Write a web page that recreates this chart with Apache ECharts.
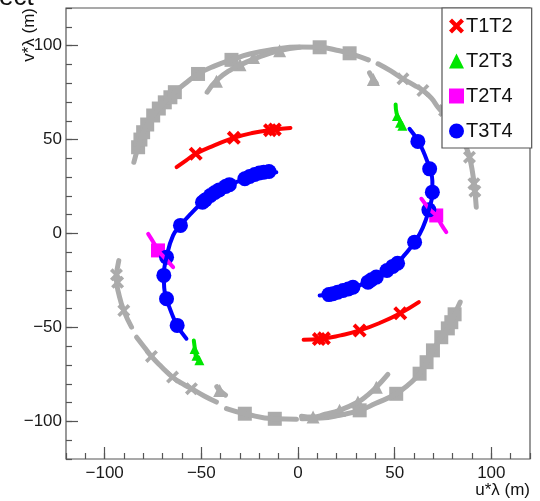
<!DOCTYPE html>
<html>
<head>
<meta charset="utf-8">
<script src="https://cdn.jsdelivr.net/npm/echarts@6/dist/echarts.min.js"></script>
<style>
  html, body { margin: 0; padding: 0; background: #ffffff; }
  #chart { width: 540px; height: 501px; }
</style>
</head>
<body>
<div id="chart"></div>
<script>
// ---- axes ----
const axisMin = -120;
const axisMax = 120;
const majorTicks = [-100, -50, 0, 50, 100];

// ---- T1T2 (red) ----
const t1t2North = [[-62.8, 35.3], [-58, 38.8], [-52.9, 42.4], [-43, 47], [-33.2, 50.9], [-23, 53.6], [-13.2, 55.2], [-3.9, 56.2]];
const t1t2South = [[2.9, -56.5], [12.1, -56.0], [22, -54.2], [31.9, -51.6], [42.5, -47.5], [52.9, -42.4], [62.5, -36.5]];
const t1t2Marks = [[-52.9, 42.4], [-33.2, 50.9], [-14.5, 55], [-12, 55.4], [10.8, -56.2], [13.4, -55.8], [31.9, -51.6], [52.9, -42.4]];

// ---- T2T3 (green) ----
const t2t3North = [[50.5, 68.6], [51, 64], [52.5, 60.5], [54.3, 56.5]];
const t2t3South = [[-53.9, -56.9], [-53.5, -60], [-52.9, -64.9], [-50.8, -68.4]];
const t2t3Marks = [[51.2, 62.5], [52.8, 59], [54, 57.3], [-53.5, -61.5], [-52.5, -65], [-51, -67.5]];

// ---- T2T4 (magenta) ----
const t2t4West = [[-77.5, -0.2], [-74, -6], [-72.4, -9], [-68, -14], [-64.6, -17.9]];
const t2t4East = [[63.8, 18.5], [68, 13], [71.5, 9.6], [74, 5], [76.7, 0.7]];
const t2t4Marks = [[-72.4, -9], [71.5, 9.6]];

// ---- T3T4 (blue) ----
const t3t4West = [[-11.2, 32.6], [-17.7, 32.6], [-22.4, 31.4], [-27.5, 29.1], [-32, 27.3], [-36.7, 25.5], [-40.8, 23.2], [-45.3, 20.2], [-49.4, 16.6], [-55, 11], [-60.8, 4.3], [-64.6, -1], [-68, -12.6], [-69.4, -22.3], [-69.2, -29], [-68, -34.7], [-65.5, -42], [-62.5, -48.9], [-57.7, -56]];
const t3t4East = [[57.7, 55.7], [62, 49.5], [65.5, 42], [68.1, 34.4], [69.5, 28], [69.5, 22], [67.7, 12.6], [64.5, 3], [60.3, -4.6], [55.5, -11], [50, -17], [46, -19.7], [40.5, -23.2], [36.2, -25.9], [32, -27.5], [28.4, -28.6], [23.3, -30.3], [18.1, -32.1], [11.2, -33]];
const t3t4Marks = [
  [-15, 33], [-17.7, 32.6], [-20, 32.2], [-22.4, 31.4], [-25, 30.3], [-27.5, 29.1],
  [-35.5, 26], [-37.5, 25], [-40.8, 23.2], [-43, 21.8], [-45.3, 20.2], [-48, 17.8], [-49.4, 16.6],
  [-60.8, 4.3], [-68, -12.6], [-69.4, -22.3], [-68, -34.7], [-62.5, -48.9],
  [62, 49], [68.1, 34.4], [69.5, 22], [67.7, 12.6], [60.3, -4.6],
  [51.5, -15.8], [49, -17.5], [46, -19.7], [40.5, -23.2], [38, -24.6], [36.2, -25.9],
  [28.4, -28.6], [26, -29.5], [23.3, -30.3], [20.5, -31.3], [18.1, -32.1], [16, -32.5]
];

// ---- other baselines (grey) ----
const greySquareArcN = [[-84.9, 37.9], [-82.7, 45.9], [-80.1, 53.9], [-74.9, 62.8], [-68.9, 69.8], [-63.7, 75.2], [-57.5, 80.5], [-51.7, 84.9], [-43, 89.2], [-34.4, 92.4], [-25, 95.5], [-12, 98], [0, 99.3], [11.2, 99.1], [20, 97.5], [26.7, 95.9], [36.4, 92.4]];
const greySquareArcS1 = [[-37, -93.2], [-27.5, -95.9], [-12, -98.6], [-0.8, -98.8]];
const greySquareArcS2 = [[2, -98.6], [12, -98.2], [20, -97], [31.9, -94.1], [40, -90.5], [50.8, -85.3], [57, -80.5], [62.9, -74.6], [66.5, -68.5], [69.8, -62.2], [74.1, -55.2], [77.5, -50.5], [79.3, -47.2], [81, -43], [83.9, -36.5]];
const greyTriArcN = [[-47, 75.2], [-42.2, 81.4], [-35, 87], [-27.5, 90.8], [-20, 94], [-9.5, 97.3], [0.9, 99.1]];
const greyTriArcS = [[1.8, -97.2], [7.8, -97.7], [14, -96.2], [21.5, -94.1], [31, -89.7], [36, -86], [40.5, -81.8], [46.5, -75]];
const greyCrossArcNE1 = [[41.4, 90.3], [48, 86.5], [54.3, 82.3], [60, 79], [64.6, 76.1], [69, 72], [72.4, 67.2], [76, 63], [79.5, 59]];
const greyCrossArcNE2 = [[84, 53], [87, 45.9], [88.7, 40.6], [90.2, 33], [91.3, 24.6], [92.2, 14]];
const greyCrossArcSW1 = [[-92.7, -14.4], [-93.9, -24.1], [-92.5, -33], [-90.1, -41], [-86.1, -49.8]];
const greyCrossArcSW2 = [[-83.5, -55.2], [-79.5, -60.5], [-75.8, -65.4], [-70.5, -71], [-64.9, -76.4], [-60, -79.8], [-55.1, -82.6], [-48.5, -86.5], [-42.2, -89.7]];
const greyStubN = [[37, 85.5], [39, 82], [40.5, 80]];
const greyStubS = [[-42, -81.5], [-40.5, -83.5], [-37.5, -86]];
const greySquares = [
  [-82.7, 45.9], [-81.5, 50], [-80.1, 53.9], [-78, 58], [-74.9, 62.8], [-72, 66.5], [-68.9, 69.8], [-66, 72.5], [-63.7, 75.2],
  [-51.7, 84.9], [-34.4, 92.4], [11.2, 99.1], [26.7, 95.9],
  [-27.5, -95.9], [-12, -98.6], [31.9, -94.1], [50.8, -85.3], [62.9, -74.6], [66.5, -68.5], [69.8, -62.2], [74.1, -55.2], [77.5, -50.5], [79.3, -47.2], [81, -43]
];
const greyTriangles = [
  [-42.2, 81], [-30, 89.8], [-23, 93.6], [-9.5, 97.2], [39, 82],
  [7.8, -97.7], [21.5, -94.1], [31, -89.7], [40.5, -81.8], [-40.5, -83.5]
];
const greyCrosses = [
  [54.3, 82.3], [64.6, 76.1], [75.8, 65.4], [88.7, 40.6], [91, 26.5], [91.5, 22.5],
  [-93.9, -22], [-93.3, -26], [-90.1, -41], [-75.8, -65.4], [-64.9, -76.4], [-55.1, -82.6]
];

// ---- styling ----
const FONT = '"Liberation Sans", Arial, Helvetica, sans-serif';
const RED = '#ff0000', GREEN = '#00e600', MAGENTA = '#ff00ff', BLUE = '#0000ff', GREY = '#ababab';
const XMARK = 'path://M2,0 L5,3 L8,0 L10,2 L7,5 L10,8 L8,10 L5,7 L2,10 L0,8 L3,5 L0,2 Z';

function track(name, data, color, width) {
  return {
    name: name, type: 'line', data: data, smooth: true, symbol: 'none', showSymbol: false,
    lineStyle: { color: color, width: width, cap: 'round', join: 'round' },
    itemStyle: { color: color }, silent: true, animation: false
  };
}
function marks(name, data, symbol, size, color) {
  return {
    name: name, type: 'scatter', data: data, symbol: symbol, symbolSize: size,
    itemStyle: { color: color, opacity: 1 }, silent: true, animation: false
  };
}

const series = [
  track('grey', greySquareArcN, GREY, 5),
  track('grey', greySquareArcS1, GREY, 5),
  track('grey', greySquareArcS2, GREY, 5),
  track('grey', greyTriArcN, GREY, 5),
  track('grey', greyTriArcS, GREY, 5),
  track('grey', greyCrossArcNE1, GREY, 5),
  track('grey', greyCrossArcNE2, GREY, 5),
  track('grey', greyCrossArcSW1, GREY, 5),
  track('grey', greyCrossArcSW2, GREY, 5),
  track('grey', greyStubN, GREY, 5),
  track('grey', greyStubS, GREY, 5),
  marks('grey', greySquares, 'rect', 14, GREY),
  marks('grey', greyTriangles, 'triangle', 13, GREY),
  marks('grey', greyCrosses, XMARK, 13, GREY),

  track('T1T2 track', t1t2North, RED, 4),
  track('T1T2 track', t1t2South, RED, 4),
  marks('T1T2', t1t2Marks, XMARK, 14, RED),

  track('T2T4 track', t2t4West, MAGENTA, 4),
  track('T2T4 track', t2t4East, MAGENTA, 4),
  marks('T2T4', t2t4Marks, 'rect', 14, MAGENTA),

  track('T2T3 track', t2t3North, GREEN, 4),
  track('T2T3 track', t2t3South, GREEN, 4),
  marks('T2T3', t2t3Marks, 'triangle', 10, GREEN),

  track('T3T4 track', t3t4West, BLUE, 4),
  track('T3T4 track', t3t4East, BLUE, 4),
  marks('T3T4', t3t4Marks, 'circle', 15, BLUE)
];

const minusFmt = v => String(v).replace('-', '\u2212');

function valueAxis(pos, isMajor) {
  const ax = {
    type: 'value', position: pos, min: axisMin, max: axisMax, offset: 0,
    axisLine: { show: false, onZero: false },
    splitLine: { show: false },
    axisTick: { show: true, inside: true, length: isMajor ? 12 : 6, lineStyle: { color: '#555', width: 1.2 } },
    axisLabel: { show: false }
  };
  if (isMajor) {
    ax.axisTick.customValues = majorTicks;
    ax.axisLabel = {
      show: true, customValues: majorTicks, formatter: minusFmt,
      color: '#1a1a1a', fontSize: 17, fontFamily: FONT, margin: pos === 'bottom' ? 6 : 4
    };
  } else {
    ax.interval = 10;
  }
  return ax;
}

const chart = echarts.init(document.getElementById('chart'), null, { renderer: 'canvas' });
chart.setOption({
  animation: false,
  backgroundColor: '#ffffff',
  grid: { left: 66, top: 8, right: 10, bottom: 42, show: true, borderColor: '#555', borderWidth: 1.2, backgroundColor: 'transparent' },
  xAxis: [valueAxis('bottom', true), valueAxis('bottom', false)],
  yAxis: [valueAxis('left', true), valueAxis('left', false)],
  legend: {
    data: [
      { name: 'T1T2', icon: XMARK },
      { name: 'T2T3', icon: 'triangle' },
      { name: 'T2T4', icon: 'rect' },
      { name: 'T3T4', icon: 'circle' }
    ],
    orient: 'vertical', left: 442, top: 8,
    padding: [8, 19, 7, 7], itemGap: 15, itemWidth: 15, itemHeight: 15,
    backgroundColor: '#ffffff', borderColor: '#555', borderWidth: 1.2, borderRadius: 0,
    selectedMode: false,
    textStyle: { fontSize: 20, fontFamily: FONT, color: '#111', padding: [0, 0, 0, -3] }
  },
  graphic: [
    { type: 'text', x: -1, y: 11, style: { text: 'ect', font: '26px ' + FONT, fill: '#111', textVerticalAlign: 'bottom' }, z: 10 },
    { type: 'text', x: 530, y: 490, style: { text: 'u*\u03bb (m)', font: '17px ' + FONT, fill: '#111', textAlign: 'right', textVerticalAlign: 'middle' }, z: 10 },
    { type: 'text', x: 29, y: 8, rotation: Math.PI / 2, style: { text: 'v*\u03bb (m)', font: '17px ' + FONT, fill: '#111', textAlign: 'right', textVerticalAlign: 'middle' }, z: 10 }
  ],
  series: series
});
</script>
</body>
</html>
